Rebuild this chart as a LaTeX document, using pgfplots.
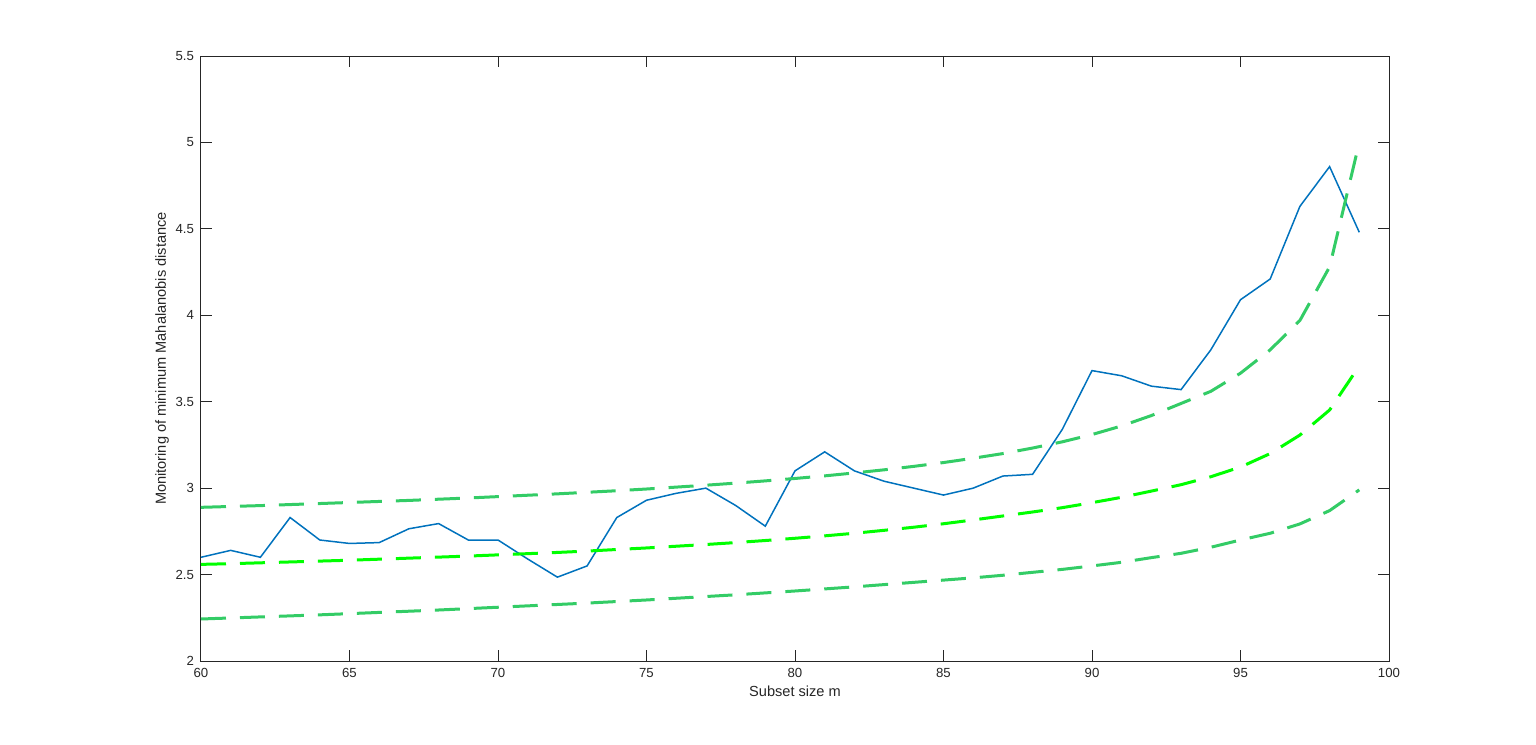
\documentclass[border=0pt]{standalone}
\usepackage{fontspec}
\setmainfont{Liberation Sans}
\usepackage{pgfplots}
\pgfplotsset{compat=1.18}
\definecolor{mblue}{rgb}{0,0.447,0.741}
\definecolor{bandgreen}{rgb}{0.2,0.8,0.4}
\definecolor{axgray}{rgb}{0.15,0.15,0.15}

\begin{document}
\begin{tikzpicture}
% page frame: 1536x744 px at 0.5pt per px
\useasboundingbox (-100.5pt,-41.5pt) rectangle (667.5pt,330.5pt);
\begin{axis}[
    at={(0,0)}, anchor=origin,
    scale only axis,
    width=594pt, height=302.5pt,
    xmin=60, xmax=100,
    ymin=2, ymax=5.5,
    xtick={60,65,...,100},
    ytick={2,2.5,...,5.5},
    tick align=inside,
    major tick length=5.5pt,
    axis line style={axgray, line width=0.5pt},
    every tick/.style={axgray, line width=0.5pt},
    tick label style={font=\fontsize{6.6}{8}\selectfont, text=axgray},
    /pgf/number format/assume math mode=true,
    /pgf/number format/.cd, fixed, precision=1, /pgfplots/.cd,
    xlabel={Subset size m},
    ylabel={Monitoring of minimum Mahalanobis distance},
    label style={font=\fontsize{7.3}{9}\selectfont, text=axgray},
    xlabel style={yshift=2.5pt},
    ylabel style={yshift=-3.5pt},
    clip=true,
]
% observed minimum Mahalanobis distance
\addplot[color=mblue, line width=0.75pt] coordinates {
(60,2.60)(61,2.64)(62,2.60)(63,2.83)(64,2.70)(65,2.68)(66,2.685)(67,2.765)
(68,2.795)(69,2.70)(70,2.70)(71,2.59)(72,2.485)(73,2.55)(74,2.83)(75,2.93)
(76,2.97)(77,3.00)(78,2.90)(79,2.78)(80,3.10)(81,3.21)(82,3.10)(83,3.04)
(84,3.00)(85,2.96)(86,3.00)(87,3.07)(88,3.08)(89,3.34)(90,3.68)(91,3.65)
(92,3.59)(93,3.57)(94,3.80)(95,4.09)(96,4.21)(97,4.63)(98,4.86)(99,4.48)};

% upper envelope
\addplot[color=bandgreen, line width=1.5pt, dash pattern=on 12.5pt off 7pt] coordinates {
(60,2.889)(61,2.894)(62,2.899)(63,2.905)(64,2.911)(65,2.917)(66,2.923)(67,2.929)
(68,2.936)(69,2.943)(70,2.951)(71,2.959)(72,2.967)(73,2.976)(74,2.985)(75,2.995)
(76,3.006)(77,3.017)(78,3.029)(79,3.042)(80,3.056)(81,3.071)(82,3.088)(83,3.106)
(84,3.126)(85,3.148)(86,3.173)(87,3.200)(88,3.232)(89,3.268)(90,3.31)(91,3.36)
(92,3.42)(93,3.49)(94,3.56)(95,3.665)(96,3.80)(97,3.97)(98,4.28)(99,5.0)};

% median envelope
\addplot[color=green, line width=1.5pt, dash pattern=on 12.5pt off 7pt] coordinates {
(60,2.559)(61,2.563)(62,2.568)(63,2.573)(64,2.578)(65,2.583)(66,2.589)(67,2.595)
(68,2.601)(69,2.607)(70,2.614)(71,2.621)(72,2.628)(73,2.636)(74,2.645)(75,2.654)
(76,2.664)(77,2.674)(78,2.685)(79,2.697)(80,2.710)(81,2.724)(82,2.739)(83,2.756)
(84,2.774)(85,2.794)(86,2.816)(87,2.839)(88,2.862)(89,2.887)(90,2.916)(91,2.947)
(92,2.983)(93,3.02)(94,3.066)(95,3.122)(96,3.20)(97,3.307)(98,3.452)(99,3.707)};

% lower envelope
\addplot[color=bandgreen, line width=1.5pt, dash pattern=on 12.5pt off 7pt] coordinates {
(60,2.243)(61,2.249)(62,2.255)(63,2.261)(64,2.267)(65,2.274)(66,2.281)(67,2.288)
(68,2.295)(69,2.303)(70,2.311)(71,2.319)(72,2.327)(73,2.335)(74,2.344)(75,2.353)
(76,2.363)(77,2.373)(78,2.383)(79,2.394)(80,2.405)(81,2.417)(82,2.429)(83,2.442)
(84,2.455)(85,2.468)(86,2.481)(87,2.496)(88,2.513)(89,2.530)(90,2.550)(91,2.571)
(92,2.598)(93,2.623)(94,2.658)(95,2.70)(96,2.739)(97,2.793)(98,2.87)(99,2.99)};
\end{axis}
\end{tikzpicture}
\end{document}
